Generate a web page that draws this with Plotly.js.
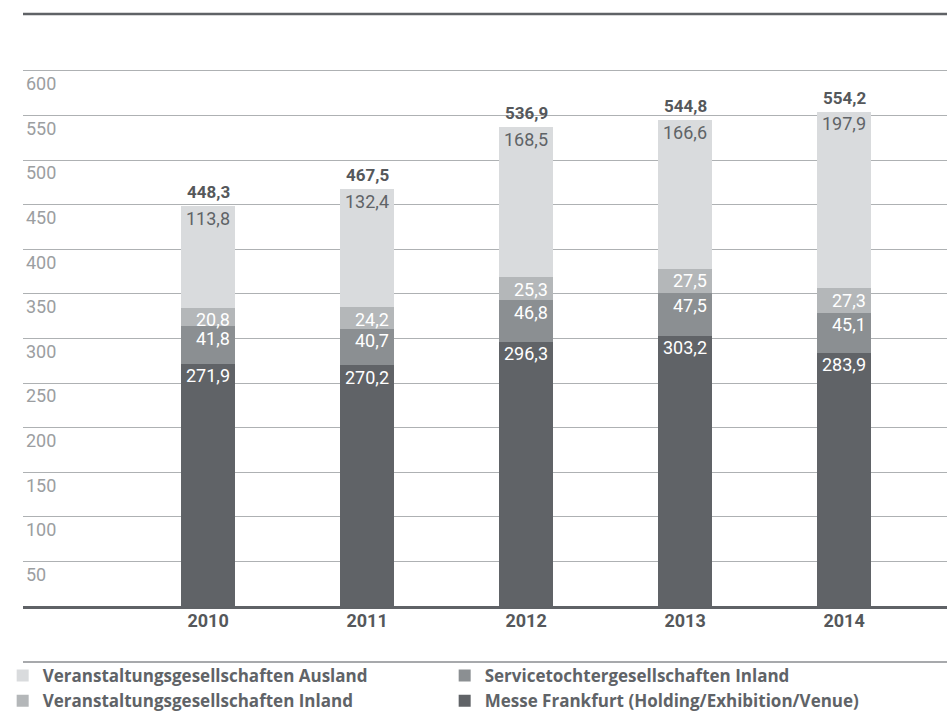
<!DOCTYPE html>
<html>
<head>
<meta charset="utf-8">
<script src="https://cdn.plot.ly/plotly-3.0.1.min.js"></script>
<style>
html,body{margin:0;padding:0;background:#fff;}
#chart{width:947px;height:721px;}
</style>
</head>
<body>
<div id="chart"></div>
<script>
const years = [2010, 2011, 2012, 2013, 2014];
const messeFrankfurt = [271.9, 270.2, 296.3, 303.2, 283.9];
const serviceInland = [41.8, 40.7, 46.8, 47.5, 45.1];
const veranstInland = [20.8, 24.2, 25.3, 27.5, 27.3];
const veranstAusland = [113.8, 132.4, 168.5, 166.6, 197.9];
const totals = [448.3, 467.5, 536.9, 544.8, 554.2];
const yTickVals = [50, 100, 150, 200, 250, 300, 350, 400, 450, 500, 550, 600];

const names = {
  ausland: 'Veranstaltungsgesellschaften Ausland',
  service: 'Servicetochtergesellschaften Inland',
  vinland: 'Veranstaltungsgesellschaften Inland',
  messe: 'Messe Frankfurt (Holding/Exhibition/Venue)'
};
const colors = {ausland:'#d9dbdd', vinland:'#b4b7b9', service:'#8b8f92', messe:'#606367'};

const fmt = v => v.toFixed(1).replace('.', ',');
const BW = 0.34;
const FONT = 'Roboto, "Liberation Sans", Arial, sans-serif';

const series = [
  {key:'messe', vals:messeFrankfurt, rank:4, txt:'#ffffff'},
  {key:'service', vals:serviceInland, rank:2, txt:'#ffffff'},
  {key:'vinland', vals:veranstInland, rank:3, txt:'#ffffff'},
  {key:'ausland', vals:veranstAusland, rank:1, txt:'#5f6367'}
];

const traces = series.map(s => ({
  type:'bar', x:years, y:s.vals, name:names[s.key], width:BW,
  marker:{color:colors[s.key], line:{width:0}}, legendrank:s.rank,
  hoverinfo:'skip'
}));

const annotations = [];
const cum = years.map(()=>0);
series.forEach(s => {
  s.vals.forEach((v,i) => {
    cum[i] += v;
    annotations.push({x:years[i]+BW/2, y:cum[i], xref:'x', yref:'y', text:fmt(v),
      showarrow:false, xanchor:'right', yanchor:'middle', xshift:-3, yshift:-12,
      font:{family:FONT, size:18, color:s.txt}});
  });
});
totals.forEach((t,i) => {
  annotations.push({x:years[i], y:cum[i], xref:'x', yref:'y', text:'<b>'+fmt(t)+'</b>',
    showarrow:false, xanchor:'center', yanchor:'middle', yshift:14,
    font:{family:FONT, size:17, color:'#55585b'}});
});

const PH = 537;
const layout = {
  width:947, height:721,
  margin:{l:23, r:0, t:69, b:115},
  paper_bgcolor:'#ffffff', plot_bgcolor:'#ffffff',
  barmode:'stack',
  font:{family:FONT},
  xaxis:{type:'linear', range:[2010-1.164, 2010+4.647], tickvals:years, ticktext:years.map(String),
    showgrid:false, zeroline:false, showline:true, linecolor:'#5f6266', linewidth:2.5,
    ticks:'', ticklabelstandoff:-3,
    tickfont:{family:FONT, size:18, color:'#55585b', weight:'bold'}, fixedrange:true},
  yaxis:{range:[0,602.2], tickvals:yTickVals, ticktext:yTickVals.map(String),
    showgrid:true, gridcolor:'#aeb1b3', gridwidth:1, zeroline:false, showline:false,
    ticks:'', ticklabelposition:'inside', ticklabelshift:13,
    tickfont:{family:FONT, size:18, color:'#9b9ea1'}, fixedrange:true},
  showlegend:true,
  legend:{orientation:'h', x:-0.022, xanchor:'left', y:-(658-606)/PH, yanchor:'top',
    entrywidth:397, entrywidthmode:'pixels', traceorder:'normal',
    font:{family:'"Open Sans", Roboto, sans-serif', size:17, color:'#606367', weight:'bold'},
    bgcolor:'rgba(0,0,0,0)', borderwidth:0},
  shapes:[
    {type:'line', xref:'paper', yref:'paper', x0:0, x1:1, y0:1+(69-14)/PH, y1:1+(69-14)/PH,
      line:{color:'#5f6266', width:2.5}},
    {type:'line', xref:'paper', yref:'paper', x0:0, x1:1, y0:-(662-606)/PH, y1:-(662-606)/PH,
      line:{color:'#8a8d90', width:1.5}}
  ],
  annotations:annotations
};

Plotly.newPlot('chart', traces, layout, {staticPlot:true, displayModeBar:false});
</script>
</body>
</html>
